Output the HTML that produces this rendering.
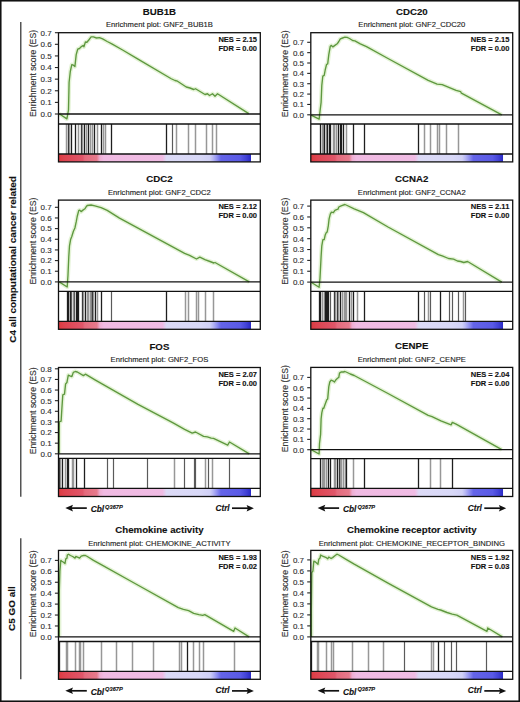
<!DOCTYPE html><html><head><meta charset="utf-8"><style>html,body{margin:0;padding:0;background:#fff;overflow:hidden;}svg{display:block;}text{font-family:"Liberation Sans",sans-serif;stroke:currentColor;stroke-width:0.12px;paint-order:stroke;}</style></head><body>
<svg width="520" height="702" viewBox="0 0 520 702">
<rect x="0" y="0" width="520" height="702" fill="#fff"/>
<defs><linearGradient id="cb" x1="0" y1="0" x2="1" y2="0"><stop offset="0.0" stop-color="#dc3a40"/><stop offset="0.03" stop-color="#de4450"/><stop offset="0.12" stop-color="#e0566a"/><stop offset="0.13" stop-color="#e46a7c"/><stop offset="0.19" stop-color="#e67a8c"/><stop offset="0.205" stop-color="#eeaed2"/><stop offset="0.225" stop-color="#f0bae2"/><stop offset="0.515" stop-color="#f0bce4"/><stop offset="0.535" stop-color="#dcdaf6"/><stop offset="0.7" stop-color="#d8d8f7"/><stop offset="0.75" stop-color="#d0d0f6"/><stop offset="0.765" stop-color="#b8b8f4"/><stop offset="0.785" stop-color="#9090f0"/><stop offset="0.805" stop-color="#6464e8"/><stop offset="0.9" stop-color="#5a5ae6"/><stop offset="0.93" stop-color="#4242d6"/><stop offset="0.952" stop-color="#2a2ac6"/><stop offset="0.9545" stop-color="#ffffff"/><stop offset="1.0" stop-color="#ffffff"/></linearGradient></defs>
<rect x="0.75" y="0.75" width="518.5" height="700.5" fill="none" stroke="#111" stroke-width="1.6"/>
<line x1="20.8" y1="22" x2="20.8" y2="496.7" stroke="#2a2a2a" stroke-width="1.2"/>
<line x1="20.8" y1="538.2" x2="20.8" y2="679.2" stroke="#2a2a2a" stroke-width="1.2"/>
<text transform="translate(15.5,259.4) rotate(-90)" text-anchor="middle" font-size="9.9" font-weight="bold" fill="#111" textLength="166.5" lengthAdjust="spacingAndGlyphs">C4 all computational cancer related</text>
<text transform="translate(15.1,608.6) rotate(-90)" text-anchor="middle" font-size="9.9" font-weight="bold" fill="#111" textLength="44.6" lengthAdjust="spacingAndGlyphs">C5 GO all</text>
<text x="159.4" y="14.7" text-anchor="middle" font-size="9.7" font-weight="bold" fill="#111">BUB1B</text>
<text x="159.4" y="27.3" text-anchor="middle" font-size="7.65" fill="#222">Enrichment plot: GNF2_BUB1B</text>
<rect x="58.50" y="154.00" width="201.80" height="7.90" fill="url(#cb)"/>
<line x1="66.50" y1="124.00" x2="66.50" y2="154.00" stroke="#979797" stroke-width="1.5"/>
<line x1="68.50" y1="124.00" x2="68.50" y2="154.00" stroke="#1e1e1e" stroke-width="1.3"/>
<line x1="69.50" y1="124.00" x2="69.50" y2="154.00" stroke="#979797" stroke-width="1.5"/>
<line x1="71.50" y1="124.00" x2="71.50" y2="154.00" stroke="#1e1e1e" stroke-width="1.3"/>
<line x1="75.50" y1="124.00" x2="75.50" y2="154.00" stroke="#1e1e1e" stroke-width="1.3"/>
<line x1="78.50" y1="124.00" x2="78.50" y2="154.00" stroke="#979797" stroke-width="1.5"/>
<line x1="81.50" y1="124.00" x2="81.50" y2="154.00" stroke="#1e1e1e" stroke-width="1.3"/>
<line x1="82.50" y1="124.00" x2="82.50" y2="154.00" stroke="#979797" stroke-width="1.5"/>
<line x1="84.50" y1="124.00" x2="84.50" y2="154.00" stroke="#1e1e1e" stroke-width="1.3"/>
<line x1="86.50" y1="124.00" x2="86.50" y2="154.00" stroke="#979797" stroke-width="1.5"/>
<line x1="88.50" y1="124.00" x2="88.50" y2="154.00" stroke="#1e1e1e" stroke-width="1.3"/>
<line x1="90.50" y1="124.00" x2="90.50" y2="154.00" stroke="#979797" stroke-width="1.5"/>
<line x1="92.50" y1="124.00" x2="92.50" y2="154.00" stroke="#979797" stroke-width="1.5"/>
<line x1="94.50" y1="124.00" x2="94.50" y2="154.00" stroke="#1e1e1e" stroke-width="1.3"/>
<line x1="97.50" y1="124.00" x2="97.50" y2="154.00" stroke="#979797" stroke-width="1.5"/>
<line x1="101.50" y1="124.00" x2="101.50" y2="154.00" stroke="#1e1e1e" stroke-width="1.3"/>
<line x1="103.50" y1="124.00" x2="103.50" y2="154.00" stroke="#979797" stroke-width="1.5"/>
<line x1="105.50" y1="124.00" x2="105.50" y2="154.00" stroke="#979797" stroke-width="1.5"/>
<line x1="111.50" y1="124.00" x2="111.50" y2="154.00" stroke="#1e1e1e" stroke-width="1.3"/>
<line x1="166.50" y1="124.00" x2="166.50" y2="154.00" stroke="#1e1e1e" stroke-width="1.3"/>
<line x1="172.50" y1="124.00" x2="172.50" y2="154.00" stroke="#5a5a5a" stroke-width="1.2"/>
<line x1="176.50" y1="124.00" x2="176.50" y2="154.00" stroke="#979797" stroke-width="1.5"/>
<line x1="188.50" y1="124.00" x2="188.50" y2="154.00" stroke="#979797" stroke-width="1.5"/>
<line x1="195.50" y1="124.00" x2="195.50" y2="154.00" stroke="#979797" stroke-width="1.5"/>
<line x1="206.50" y1="124.00" x2="206.50" y2="154.00" stroke="#979797" stroke-width="1.5"/>
<line x1="212.50" y1="124.00" x2="212.50" y2="154.00" stroke="#979797" stroke-width="1.5"/>
<line x1="216.50" y1="124.00" x2="216.50" y2="154.00" stroke="#979797" stroke-width="1.5"/>
<polyline points="59.20,113.80 66.90,118.90 68.50,110.00 69.10,82.30 70.30,71.50 71.80,64.60 73.40,65.20 74.90,66.60 76.20,54.60 77.70,49.20 79.50,48.50 81.00,46.90 83.40,45.40 83.90,46.90 85.40,42.00 86.90,42.30 88.80,40.00 91.10,36.90 93.40,36.90 96.50,38.00 99.50,37.70 102.60,38.90 107.20,41.50 111.80,43.80 122.60,50.00 138.00,59.20 171.25,78.75 175.00,80.50 177.50,81.20 186.25,87.00 190.00,88.00 193.75,89.50 195.50,88.75 205.00,94.50 207.50,93.75 209.50,95.50 212.50,93.75 215.00,96.25 217.50,93.75 248.75,113.60" fill="none" stroke="#e4f3d6" stroke-width="4.2" stroke-linejoin="round"/>
<polyline points="59.20,113.80 66.90,118.90 68.50,110.00 69.10,82.30 70.30,71.50 71.80,64.60 73.40,65.20 74.90,66.60 76.20,54.60 77.70,49.20 79.50,48.50 81.00,46.90 83.40,45.40 83.90,46.90 85.40,42.00 86.90,42.30 88.80,40.00 91.10,36.90 93.40,36.90 96.50,38.00 99.50,37.70 102.60,38.90 107.20,41.50 111.80,43.80 122.60,50.00 138.00,59.20 171.25,78.75 175.00,80.50 177.50,81.20 186.25,87.00 190.00,88.00 193.75,89.50 195.50,88.75 205.00,94.50 207.50,93.75 209.50,95.50 212.50,93.75 215.00,96.25 217.50,93.75 248.75,113.60" fill="none" stroke="#5e983f" stroke-width="1.35" stroke-linejoin="round"/>
<rect x="58.50" y="32.70" width="201.80" height="129.20" fill="none" stroke="#111" stroke-width="1.3"/>
<line x1="58.50" y1="114.00" x2="260.30" y2="114.00" stroke="#111" stroke-width="1.3"/>
<line x1="58.50" y1="124.00" x2="260.30" y2="124.00" stroke="#111" stroke-width="1.3"/>
<line x1="58.50" y1="154.00" x2="260.30" y2="154.00" stroke="#111" stroke-width="1.3"/>
<line x1="54.90" y1="114.00" x2="58.50" y2="114.00" stroke="#222" stroke-width="1.1"/>
<text x="51.70" y="116.85" text-anchor="end" font-size="8" fill="#333">0.0</text>
<line x1="54.90" y1="102.39" x2="58.50" y2="102.39" stroke="#222" stroke-width="1.1"/>
<text x="51.70" y="105.24" text-anchor="end" font-size="8" fill="#333">0.1</text>
<line x1="54.90" y1="90.77" x2="58.50" y2="90.77" stroke="#222" stroke-width="1.1"/>
<text x="51.70" y="93.62" text-anchor="end" font-size="8" fill="#333">0.2</text>
<line x1="54.90" y1="79.16" x2="58.50" y2="79.16" stroke="#222" stroke-width="1.1"/>
<text x="51.70" y="82.01" text-anchor="end" font-size="8" fill="#333">0.3</text>
<line x1="54.90" y1="67.54" x2="58.50" y2="67.54" stroke="#222" stroke-width="1.1"/>
<text x="51.70" y="70.39" text-anchor="end" font-size="8" fill="#333">0.4</text>
<line x1="54.90" y1="55.93" x2="58.50" y2="55.93" stroke="#222" stroke-width="1.1"/>
<text x="51.70" y="58.78" text-anchor="end" font-size="8" fill="#333">0.5</text>
<line x1="54.90" y1="44.31" x2="58.50" y2="44.31" stroke="#222" stroke-width="1.1"/>
<text x="51.70" y="47.16" text-anchor="end" font-size="8" fill="#333">0.6</text>
<line x1="54.90" y1="32.70" x2="58.50" y2="32.70" stroke="#222" stroke-width="1.1"/>
<text x="51.70" y="35.55" text-anchor="end" font-size="8" fill="#333">0.7</text>
<text transform="translate(35.60,73.45) rotate(-90)" text-anchor="middle" font-size="8.9" fill="#333" textLength="87" lengthAdjust="spacingAndGlyphs">Enrichment score (ES)</text>
<text x="257.00" y="42.00" text-anchor="end" font-size="7.7" font-weight="bold" fill="#111" textLength="38.6" lengthAdjust="spacingAndGlyphs">NES = 2.15</text>
<text x="257.00" y="51.00" text-anchor="end" font-size="7.7" font-weight="bold" fill="#111" textLength="38.6" lengthAdjust="spacingAndGlyphs">FDR = 0.00</text>
<text x="411.8" y="14.7" text-anchor="middle" font-size="9.7" font-weight="bold" fill="#111">CDC20</text>
<text x="411.8" y="27.3" text-anchor="middle" font-size="7.65" fill="#222">Enrichment plot: GNF2_CDC20</text>
<rect x="310.80" y="154.00" width="201.90" height="7.90" fill="url(#cb)"/>
<line x1="320.50" y1="124.00" x2="320.50" y2="154.00" stroke="#1e1e1e" stroke-width="1.3"/>
<line x1="322.50" y1="124.00" x2="322.50" y2="154.00" stroke="#979797" stroke-width="1.5"/>
<line x1="323.50" y1="124.00" x2="323.50" y2="154.00" stroke="#979797" stroke-width="1.5"/>
<line x1="324.50" y1="124.00" x2="324.50" y2="154.00" stroke="#1e1e1e" stroke-width="1.3"/>
<line x1="326.50" y1="124.00" x2="326.50" y2="154.00" stroke="#979797" stroke-width="1.5"/>
<line x1="327.50" y1="124.00" x2="327.50" y2="154.00" stroke="#1e1e1e" stroke-width="1.3"/>
<line x1="329.50" y1="124.00" x2="329.50" y2="154.00" stroke="#1e1e1e" stroke-width="1.3"/>
<line x1="330.50" y1="124.00" x2="330.50" y2="154.00" stroke="#1e1e1e" stroke-width="1.3"/>
<line x1="333.50" y1="124.00" x2="333.50" y2="154.00" stroke="#979797" stroke-width="1.5"/>
<line x1="334.50" y1="124.00" x2="334.50" y2="154.00" stroke="#979797" stroke-width="1.5"/>
<line x1="336.50" y1="124.00" x2="336.50" y2="154.00" stroke="#979797" stroke-width="1.5"/>
<line x1="338.50" y1="124.00" x2="338.50" y2="154.00" stroke="#1e1e1e" stroke-width="1.3"/>
<line x1="340.50" y1="124.00" x2="340.50" y2="154.00" stroke="#1e1e1e" stroke-width="1.3"/>
<line x1="341.50" y1="124.00" x2="341.50" y2="154.00" stroke="#1e1e1e" stroke-width="1.3"/>
<line x1="343.50" y1="124.00" x2="343.50" y2="154.00" stroke="#1e1e1e" stroke-width="1.3"/>
<line x1="346.50" y1="124.00" x2="346.50" y2="154.00" stroke="#979797" stroke-width="1.5"/>
<line x1="353.50" y1="124.00" x2="353.50" y2="154.00" stroke="#1e1e1e" stroke-width="1.3"/>
<line x1="364.50" y1="124.00" x2="364.50" y2="154.00" stroke="#1e1e1e" stroke-width="1.3"/>
<line x1="418.50" y1="124.00" x2="418.50" y2="154.00" stroke="#1e1e1e" stroke-width="1.3"/>
<line x1="424.50" y1="124.00" x2="424.50" y2="154.00" stroke="#979797" stroke-width="1.5"/>
<line x1="430.50" y1="124.00" x2="430.50" y2="154.00" stroke="#979797" stroke-width="1.5"/>
<line x1="437.50" y1="124.00" x2="437.50" y2="154.00" stroke="#979797" stroke-width="1.5"/>
<line x1="439.50" y1="124.00" x2="439.50" y2="154.00" stroke="#979797" stroke-width="1.5"/>
<line x1="446.50" y1="124.00" x2="446.50" y2="154.00" stroke="#979797" stroke-width="1.5"/>
<line x1="458.50" y1="124.00" x2="458.50" y2="154.00" stroke="#979797" stroke-width="1.5"/>
<polyline points="311.10,115.10 319.10,119.20 320.00,111.50 321.10,102.30 321.80,85.40 322.80,76.20 324.20,75.40 325.20,70.00 326.50,64.60 327.70,63.80 328.80,54.60 330.30,46.20 331.40,45.40 332.90,46.90 334.90,45.40 337.20,43.80 338.80,41.50 340.30,38.90 342.60,38.00 344.90,37.20 347.20,37.40 349.50,38.50 352.60,40.50 354.90,40.80 360.30,43.80 366.50,46.60 388.00,58.50 428.20,80.30 437.10,84.10 442.20,84.60 456.10,90.40 460.70,91.70 461.40,93.20 501.80,114.80" fill="none" stroke="#e4f3d6" stroke-width="4.2" stroke-linejoin="round"/>
<polyline points="311.10,115.10 319.10,119.20 320.00,111.50 321.10,102.30 321.80,85.40 322.80,76.20 324.20,75.40 325.20,70.00 326.50,64.60 327.70,63.80 328.80,54.60 330.30,46.20 331.40,45.40 332.90,46.90 334.90,45.40 337.20,43.80 338.80,41.50 340.30,38.90 342.60,38.00 344.90,37.20 347.20,37.40 349.50,38.50 352.60,40.50 354.90,40.80 360.30,43.80 366.50,46.60 388.00,58.50 428.20,80.30 437.10,84.10 442.20,84.60 456.10,90.40 460.70,91.70 461.40,93.20 501.80,114.80" fill="none" stroke="#5e983f" stroke-width="1.35" stroke-linejoin="round"/>
<rect x="310.80" y="32.70" width="201.90" height="129.20" fill="none" stroke="#111" stroke-width="1.3"/>
<line x1="310.80" y1="114.80" x2="512.70" y2="114.80" stroke="#111" stroke-width="1.3"/>
<line x1="310.80" y1="124.00" x2="512.70" y2="124.00" stroke="#111" stroke-width="1.3"/>
<line x1="310.80" y1="154.00" x2="512.70" y2="154.00" stroke="#111" stroke-width="1.3"/>
<line x1="307.20" y1="114.80" x2="310.80" y2="114.80" stroke="#222" stroke-width="1.1"/>
<text x="304.00" y="117.65" text-anchor="end" font-size="8" fill="#333">0.0</text>
<line x1="307.20" y1="104.44" x2="310.80" y2="104.44" stroke="#222" stroke-width="1.1"/>
<text x="304.00" y="107.29" text-anchor="end" font-size="8" fill="#333">0.1</text>
<line x1="307.20" y1="94.09" x2="310.80" y2="94.09" stroke="#222" stroke-width="1.1"/>
<text x="304.00" y="96.94" text-anchor="end" font-size="8" fill="#333">0.2</text>
<line x1="307.20" y1="83.73" x2="310.80" y2="83.73" stroke="#222" stroke-width="1.1"/>
<text x="304.00" y="86.58" text-anchor="end" font-size="8" fill="#333">0.3</text>
<line x1="307.20" y1="73.37" x2="310.80" y2="73.37" stroke="#222" stroke-width="1.1"/>
<text x="304.00" y="76.22" text-anchor="end" font-size="8" fill="#333">0.4</text>
<line x1="307.20" y1="63.01" x2="310.80" y2="63.01" stroke="#222" stroke-width="1.1"/>
<text x="304.00" y="65.86" text-anchor="end" font-size="8" fill="#333">0.5</text>
<line x1="307.20" y1="52.66" x2="310.80" y2="52.66" stroke="#222" stroke-width="1.1"/>
<text x="304.00" y="55.51" text-anchor="end" font-size="8" fill="#333">0.6</text>
<line x1="307.20" y1="42.30" x2="310.80" y2="42.30" stroke="#222" stroke-width="1.1"/>
<text x="304.00" y="45.15" text-anchor="end" font-size="8" fill="#333">0.7</text>
<text transform="translate(287.90,73.85) rotate(-90)" text-anchor="middle" font-size="8.9" fill="#333" textLength="87" lengthAdjust="spacingAndGlyphs">Enrichment score (ES)</text>
<text x="509.40" y="42.00" text-anchor="end" font-size="7.7" font-weight="bold" fill="#111" textLength="38.6" lengthAdjust="spacingAndGlyphs">NES = 2.15</text>
<text x="509.40" y="51.00" text-anchor="end" font-size="7.7" font-weight="bold" fill="#111" textLength="38.6" lengthAdjust="spacingAndGlyphs">FDR = 0.00</text>
<text x="159.4" y="182.1" text-anchor="middle" font-size="9.7" font-weight="bold" fill="#111">CDC2</text>
<text x="159.4" y="194.7" text-anchor="middle" font-size="7.65" fill="#222">Enrichment plot: GNF2_CDC2</text>
<rect x="58.50" y="321.40" width="201.80" height="7.90" fill="url(#cb)"/>
<line x1="67.50" y1="291.40" x2="67.50" y2="321.40" stroke="#1e1e1e" stroke-width="1.3"/>
<line x1="68.50" y1="291.40" x2="68.50" y2="321.40" stroke="#1e1e1e" stroke-width="1.3"/>
<line x1="70.50" y1="291.40" x2="70.50" y2="321.40" stroke="#979797" stroke-width="1.5"/>
<line x1="70.50" y1="291.40" x2="70.50" y2="321.40" stroke="#1e1e1e" stroke-width="1.3"/>
<line x1="71.50" y1="291.40" x2="71.50" y2="321.40" stroke="#5a5a5a" stroke-width="1.2"/>
<line x1="73.50" y1="291.40" x2="73.50" y2="321.40" stroke="#979797" stroke-width="1.5"/>
<line x1="74.50" y1="291.40" x2="74.50" y2="321.40" stroke="#5a5a5a" stroke-width="1.2"/>
<line x1="76.50" y1="291.40" x2="76.50" y2="321.40" stroke="#1e1e1e" stroke-width="1.3"/>
<line x1="77.50" y1="291.40" x2="77.50" y2="321.40" stroke="#1e1e1e" stroke-width="1.3"/>
<line x1="78.50" y1="291.40" x2="78.50" y2="321.40" stroke="#1e1e1e" stroke-width="1.3"/>
<line x1="82.50" y1="291.40" x2="82.50" y2="321.40" stroke="#1e1e1e" stroke-width="1.3"/>
<line x1="83.50" y1="291.40" x2="83.50" y2="321.40" stroke="#979797" stroke-width="1.5"/>
<line x1="85.50" y1="291.40" x2="85.50" y2="321.40" stroke="#1e1e1e" stroke-width="1.3"/>
<line x1="87.50" y1="291.40" x2="87.50" y2="321.40" stroke="#979797" stroke-width="1.5"/>
<line x1="88.50" y1="291.40" x2="88.50" y2="321.40" stroke="#979797" stroke-width="1.5"/>
<line x1="90.50" y1="291.40" x2="90.50" y2="321.40" stroke="#979797" stroke-width="1.5"/>
<line x1="91.50" y1="291.40" x2="91.50" y2="321.40" stroke="#979797" stroke-width="1.5"/>
<line x1="92.50" y1="291.40" x2="92.50" y2="321.40" stroke="#1e1e1e" stroke-width="1.3"/>
<line x1="93.50" y1="291.40" x2="93.50" y2="321.40" stroke="#979797" stroke-width="1.5"/>
<line x1="95.50" y1="291.40" x2="95.50" y2="321.40" stroke="#1e1e1e" stroke-width="1.3"/>
<line x1="97.50" y1="291.40" x2="97.50" y2="321.40" stroke="#979797" stroke-width="1.5"/>
<line x1="101.50" y1="291.40" x2="101.50" y2="321.40" stroke="#1e1e1e" stroke-width="1.3"/>
<line x1="111.50" y1="291.40" x2="111.50" y2="321.40" stroke="#5a5a5a" stroke-width="1.2"/>
<line x1="166.50" y1="291.40" x2="166.50" y2="321.40" stroke="#1e1e1e" stroke-width="1.3"/>
<line x1="185.50" y1="291.40" x2="185.50" y2="321.40" stroke="#979797" stroke-width="1.5"/>
<line x1="188.50" y1="291.40" x2="188.50" y2="321.40" stroke="#979797" stroke-width="1.5"/>
<line x1="196.50" y1="291.40" x2="196.50" y2="321.40" stroke="#979797" stroke-width="1.5"/>
<line x1="198.50" y1="291.40" x2="198.50" y2="321.40" stroke="#979797" stroke-width="1.5"/>
<line x1="205.50" y1="291.40" x2="205.50" y2="321.40" stroke="#979797" stroke-width="1.5"/>
<line x1="213.50" y1="291.40" x2="213.50" y2="321.40" stroke="#979797" stroke-width="1.5"/>
<polyline points="59.20,281.90 67.20,287.00 68.00,275.00 68.80,256.50 69.50,245.80 70.60,239.60 71.80,236.50 73.40,231.20 74.90,228.00 76.20,221.90 77.20,216.50 78.80,210.40 79.80,210.10 81.10,211.60 82.60,210.40 84.90,208.80 86.00,207.00 87.20,205.50 91.10,205.00 94.90,205.80 101.10,207.60 107.20,210.40 119.50,218.10 138.00,228.10 184.60,253.40 189.60,255.40 196.50,259.00 199.80,257.20 204.90,259.70 210.00,261.50 213.80,263.00 215.00,262.50 249.30,281.90" fill="none" stroke="#e4f3d6" stroke-width="4.2" stroke-linejoin="round"/>
<polyline points="59.20,281.90 67.20,287.00 68.00,275.00 68.80,256.50 69.50,245.80 70.60,239.60 71.80,236.50 73.40,231.20 74.90,228.00 76.20,221.90 77.20,216.50 78.80,210.40 79.80,210.10 81.10,211.60 82.60,210.40 84.90,208.80 86.00,207.00 87.20,205.50 91.10,205.00 94.90,205.80 101.10,207.60 107.20,210.40 119.50,218.10 138.00,228.10 184.60,253.40 189.60,255.40 196.50,259.00 199.80,257.20 204.90,259.70 210.00,261.50 213.80,263.00 215.00,262.50 249.30,281.90" fill="none" stroke="#5e983f" stroke-width="1.35" stroke-linejoin="round"/>
<rect x="58.50" y="200.10" width="201.80" height="129.20" fill="none" stroke="#111" stroke-width="1.3"/>
<line x1="58.50" y1="281.90" x2="260.30" y2="281.90" stroke="#111" stroke-width="1.3"/>
<line x1="58.50" y1="291.40" x2="260.30" y2="291.40" stroke="#111" stroke-width="1.3"/>
<line x1="58.50" y1="321.40" x2="260.30" y2="321.40" stroke="#111" stroke-width="1.3"/>
<line x1="54.90" y1="281.90" x2="58.50" y2="281.90" stroke="#222" stroke-width="1.1"/>
<text x="51.70" y="284.75" text-anchor="end" font-size="8" fill="#333">0.0</text>
<line x1="54.90" y1="271.24" x2="58.50" y2="271.24" stroke="#222" stroke-width="1.1"/>
<text x="51.70" y="274.09" text-anchor="end" font-size="8" fill="#333">0.1</text>
<line x1="54.90" y1="260.59" x2="58.50" y2="260.59" stroke="#222" stroke-width="1.1"/>
<text x="51.70" y="263.44" text-anchor="end" font-size="8" fill="#333">0.2</text>
<line x1="54.90" y1="249.93" x2="58.50" y2="249.93" stroke="#222" stroke-width="1.1"/>
<text x="51.70" y="252.78" text-anchor="end" font-size="8" fill="#333">0.3</text>
<line x1="54.90" y1="239.27" x2="58.50" y2="239.27" stroke="#222" stroke-width="1.1"/>
<text x="51.70" y="242.12" text-anchor="end" font-size="8" fill="#333">0.4</text>
<line x1="54.90" y1="228.61" x2="58.50" y2="228.61" stroke="#222" stroke-width="1.1"/>
<text x="51.70" y="231.46" text-anchor="end" font-size="8" fill="#333">0.5</text>
<line x1="54.90" y1="217.96" x2="58.50" y2="217.96" stroke="#222" stroke-width="1.1"/>
<text x="51.70" y="220.81" text-anchor="end" font-size="8" fill="#333">0.6</text>
<line x1="54.90" y1="207.30" x2="58.50" y2="207.30" stroke="#222" stroke-width="1.1"/>
<text x="51.70" y="210.15" text-anchor="end" font-size="8" fill="#333">0.7</text>
<text transform="translate(35.60,241.10) rotate(-90)" text-anchor="middle" font-size="8.9" fill="#333" textLength="87" lengthAdjust="spacingAndGlyphs">Enrichment score (ES)</text>
<text x="257.00" y="209.40" text-anchor="end" font-size="7.7" font-weight="bold" fill="#111" textLength="38.6" lengthAdjust="spacingAndGlyphs">NES = 2.12</text>
<text x="257.00" y="218.40" text-anchor="end" font-size="7.7" font-weight="bold" fill="#111" textLength="38.6" lengthAdjust="spacingAndGlyphs">FDR = 0.00</text>
<text x="411.8" y="182.1" text-anchor="middle" font-size="9.7" font-weight="bold" fill="#111">CCNA2</text>
<text x="411.8" y="194.7" text-anchor="middle" font-size="7.65" fill="#222">Enrichment plot: GNF2_CCNA2</text>
<rect x="310.80" y="321.40" width="201.90" height="7.90" fill="url(#cb)"/>
<line x1="319.50" y1="291.40" x2="319.50" y2="321.40" stroke="#1e1e1e" stroke-width="1.3"/>
<line x1="320.50" y1="291.40" x2="320.50" y2="321.40" stroke="#1e1e1e" stroke-width="1.3"/>
<line x1="322.50" y1="291.40" x2="322.50" y2="321.40" stroke="#979797" stroke-width="1.5"/>
<line x1="324.50" y1="291.40" x2="324.50" y2="321.40" stroke="#979797" stroke-width="1.5"/>
<line x1="325.50" y1="291.40" x2="325.50" y2="321.40" stroke="#1e1e1e" stroke-width="1.3"/>
<line x1="326.50" y1="291.40" x2="326.50" y2="321.40" stroke="#1e1e1e" stroke-width="1.3"/>
<line x1="327.50" y1="291.40" x2="327.50" y2="321.40" stroke="#1e1e1e" stroke-width="1.3"/>
<line x1="328.50" y1="291.40" x2="328.50" y2="321.40" stroke="#1e1e1e" stroke-width="1.3"/>
<line x1="330.50" y1="291.40" x2="330.50" y2="321.40" stroke="#5a5a5a" stroke-width="1.2"/>
<line x1="334.50" y1="291.40" x2="334.50" y2="321.40" stroke="#1e1e1e" stroke-width="1.3"/>
<line x1="335.50" y1="291.40" x2="335.50" y2="321.40" stroke="#979797" stroke-width="1.5"/>
<line x1="337.50" y1="291.40" x2="337.50" y2="321.40" stroke="#1e1e1e" stroke-width="1.3"/>
<line x1="338.50" y1="291.40" x2="338.50" y2="321.40" stroke="#979797" stroke-width="1.5"/>
<line x1="340.50" y1="291.40" x2="340.50" y2="321.40" stroke="#1e1e1e" stroke-width="1.3"/>
<line x1="342.50" y1="291.40" x2="342.50" y2="321.40" stroke="#979797" stroke-width="1.5"/>
<line x1="344.50" y1="291.40" x2="344.50" y2="321.40" stroke="#979797" stroke-width="1.5"/>
<line x1="345.50" y1="291.40" x2="345.50" y2="321.40" stroke="#979797" stroke-width="1.5"/>
<line x1="346.50" y1="291.40" x2="346.50" y2="321.40" stroke="#979797" stroke-width="1.5"/>
<line x1="349.50" y1="291.40" x2="349.50" y2="321.40" stroke="#1e1e1e" stroke-width="1.3"/>
<line x1="351.50" y1="291.40" x2="351.50" y2="321.40" stroke="#979797" stroke-width="1.5"/>
<line x1="353.50" y1="291.40" x2="353.50" y2="321.40" stroke="#1e1e1e" stroke-width="1.3"/>
<line x1="357.50" y1="291.40" x2="357.50" y2="321.40" stroke="#979797" stroke-width="1.5"/>
<line x1="364.50" y1="291.40" x2="364.50" y2="321.40" stroke="#1e1e1e" stroke-width="1.3"/>
<line x1="418.50" y1="291.40" x2="418.50" y2="321.40" stroke="#1e1e1e" stroke-width="1.3"/>
<line x1="424.50" y1="291.40" x2="424.50" y2="321.40" stroke="#5a5a5a" stroke-width="1.2"/>
<line x1="428.50" y1="291.40" x2="428.50" y2="321.40" stroke="#979797" stroke-width="1.5"/>
<line x1="430.50" y1="291.40" x2="430.50" y2="321.40" stroke="#5a5a5a" stroke-width="1.2"/>
<line x1="440.50" y1="291.40" x2="440.50" y2="321.40" stroke="#1e1e1e" stroke-width="1.3"/>
<line x1="449.50" y1="291.40" x2="449.50" y2="321.40" stroke="#5a5a5a" stroke-width="1.2"/>
<line x1="452.50" y1="291.40" x2="452.50" y2="321.40" stroke="#5a5a5a" stroke-width="1.2"/>
<line x1="458.50" y1="291.40" x2="458.50" y2="321.40" stroke="#5a5a5a" stroke-width="1.2"/>
<line x1="463.50" y1="291.40" x2="463.50" y2="321.40" stroke="#979797" stroke-width="1.5"/>
<line x1="465.50" y1="291.40" x2="465.50" y2="321.40" stroke="#5a5a5a" stroke-width="1.2"/>
<polyline points="311.10,282.20 319.10,287.30 320.00,278.10 321.10,256.50 321.80,245.80 322.90,239.60 324.20,239.60 325.20,235.00 326.20,232.70 327.20,231.90 328.30,225.80 329.10,218.80 330.30,214.20 331.40,212.20 333.40,212.70 334.90,210.40 336.50,209.60 338.00,209.20 338.80,207.00 341.10,205.80 344.90,204.50 347.20,205.50 354.20,208.80 363.40,212.70 388.00,227.00 438.40,254.60 442.20,255.90 448.50,258.50 453.60,259.20 457.40,261.00 460.70,261.50 463.80,262.50 467.60,261.50 501.80,282.10" fill="none" stroke="#e4f3d6" stroke-width="4.2" stroke-linejoin="round"/>
<polyline points="311.10,282.20 319.10,287.30 320.00,278.10 321.10,256.50 321.80,245.80 322.90,239.60 324.20,239.60 325.20,235.00 326.20,232.70 327.20,231.90 328.30,225.80 329.10,218.80 330.30,214.20 331.40,212.20 333.40,212.70 334.90,210.40 336.50,209.60 338.00,209.20 338.80,207.00 341.10,205.80 344.90,204.50 347.20,205.50 354.20,208.80 363.40,212.70 388.00,227.00 438.40,254.60 442.20,255.90 448.50,258.50 453.60,259.20 457.40,261.00 460.70,261.50 463.80,262.50 467.60,261.50 501.80,282.10" fill="none" stroke="#5e983f" stroke-width="1.35" stroke-linejoin="round"/>
<rect x="310.80" y="200.10" width="201.90" height="129.20" fill="none" stroke="#111" stroke-width="1.3"/>
<line x1="310.80" y1="282.10" x2="512.70" y2="282.10" stroke="#111" stroke-width="1.3"/>
<line x1="310.80" y1="291.40" x2="512.70" y2="291.40" stroke="#111" stroke-width="1.3"/>
<line x1="310.80" y1="321.40" x2="512.70" y2="321.40" stroke="#111" stroke-width="1.3"/>
<line x1="307.20" y1="282.10" x2="310.80" y2="282.10" stroke="#222" stroke-width="1.1"/>
<text x="304.00" y="284.95" text-anchor="end" font-size="8" fill="#333">0.0</text>
<line x1="307.20" y1="271.24" x2="310.80" y2="271.24" stroke="#222" stroke-width="1.1"/>
<text x="304.00" y="274.09" text-anchor="end" font-size="8" fill="#333">0.1</text>
<line x1="307.20" y1="260.39" x2="310.80" y2="260.39" stroke="#222" stroke-width="1.1"/>
<text x="304.00" y="263.24" text-anchor="end" font-size="8" fill="#333">0.2</text>
<line x1="307.20" y1="249.53" x2="310.80" y2="249.53" stroke="#222" stroke-width="1.1"/>
<text x="304.00" y="252.38" text-anchor="end" font-size="8" fill="#333">0.3</text>
<line x1="307.20" y1="238.67" x2="310.80" y2="238.67" stroke="#222" stroke-width="1.1"/>
<text x="304.00" y="241.52" text-anchor="end" font-size="8" fill="#333">0.4</text>
<line x1="307.20" y1="227.81" x2="310.80" y2="227.81" stroke="#222" stroke-width="1.1"/>
<text x="304.00" y="230.66" text-anchor="end" font-size="8" fill="#333">0.5</text>
<line x1="307.20" y1="216.96" x2="310.80" y2="216.96" stroke="#222" stroke-width="1.1"/>
<text x="304.00" y="219.81" text-anchor="end" font-size="8" fill="#333">0.6</text>
<line x1="307.20" y1="206.10" x2="310.80" y2="206.10" stroke="#222" stroke-width="1.1"/>
<text x="304.00" y="208.95" text-anchor="end" font-size="8" fill="#333">0.7</text>
<text transform="translate(287.90,241.20) rotate(-90)" text-anchor="middle" font-size="8.9" fill="#333" textLength="87" lengthAdjust="spacingAndGlyphs">Enrichment score (ES)</text>
<text x="509.40" y="209.40" text-anchor="end" font-size="7.7" font-weight="bold" fill="#111" textLength="38.6" lengthAdjust="spacingAndGlyphs">NES = 2.11</text>
<text x="509.40" y="218.40" text-anchor="end" font-size="7.7" font-weight="bold" fill="#111" textLength="38.6" lengthAdjust="spacingAndGlyphs">FDR = 0.00</text>
<text x="159.4" y="349.5" text-anchor="middle" font-size="9.7" font-weight="bold" fill="#111">FOS</text>
<text x="159.4" y="362.1" text-anchor="middle" font-size="7.65" fill="#222">Enrichment plot: GNF2_FOS</text>
<rect x="58.50" y="488.40" width="201.80" height="8.10" fill="url(#cb)"/>
<line x1="59.50" y1="458.40" x2="59.50" y2="488.40" stroke="#1e1e1e" stroke-width="1.3"/>
<line x1="60.50" y1="458.40" x2="60.50" y2="488.40" stroke="#979797" stroke-width="1.5"/>
<line x1="62.50" y1="458.40" x2="62.50" y2="488.40" stroke="#1e1e1e" stroke-width="1.3"/>
<line x1="65.50" y1="458.40" x2="65.50" y2="488.40" stroke="#979797" stroke-width="1.5"/>
<line x1="67.50" y1="458.40" x2="67.50" y2="488.40" stroke="#1e1e1e" stroke-width="1.3"/>
<line x1="68.50" y1="458.40" x2="68.50" y2="488.40" stroke="#1e1e1e" stroke-width="1.3"/>
<line x1="72.50" y1="458.40" x2="72.50" y2="488.40" stroke="#979797" stroke-width="1.5"/>
<line x1="73.50" y1="458.40" x2="73.50" y2="488.40" stroke="#979797" stroke-width="1.5"/>
<line x1="76.50" y1="458.40" x2="76.50" y2="488.40" stroke="#1e1e1e" stroke-width="1.3"/>
<line x1="84.50" y1="458.40" x2="84.50" y2="488.40" stroke="#1e1e1e" stroke-width="1.3"/>
<line x1="107.50" y1="458.40" x2="107.50" y2="488.40" stroke="#5a5a5a" stroke-width="1.2"/>
<line x1="113.50" y1="458.40" x2="113.50" y2="488.40" stroke="#5a5a5a" stroke-width="1.2"/>
<line x1="147.50" y1="458.40" x2="147.50" y2="488.40" stroke="#5a5a5a" stroke-width="1.2"/>
<line x1="174.50" y1="458.40" x2="174.50" y2="488.40" stroke="#979797" stroke-width="1.5"/>
<line x1="184.50" y1="458.40" x2="184.50" y2="488.40" stroke="#5a5a5a" stroke-width="1.2"/>
<line x1="194.50" y1="458.40" x2="194.50" y2="488.40" stroke="#5a5a5a" stroke-width="1.2"/>
<line x1="195.50" y1="458.40" x2="195.50" y2="488.40" stroke="#5a5a5a" stroke-width="1.2"/>
<line x1="205.50" y1="458.40" x2="205.50" y2="488.40" stroke="#979797" stroke-width="1.5"/>
<line x1="208.50" y1="458.40" x2="208.50" y2="488.40" stroke="#5a5a5a" stroke-width="1.2"/>
<line x1="212.50" y1="458.40" x2="212.50" y2="488.40" stroke="#979797" stroke-width="1.5"/>
<line x1="229.50" y1="458.40" x2="229.50" y2="488.40" stroke="#5a5a5a" stroke-width="1.2"/>
<polyline points="59.10,453.50 59.30,421.80 61.10,421.20 61.80,409.70 62.80,394.80 64.50,394.10 65.60,383.90 66.90,382.60 68.30,375.10 69.90,375.80 71.90,376.50 73.30,372.40 75.30,371.50 77.30,372.00 83.40,375.60 85.40,374.20 95.00,379.90 138.00,404.30 173.10,422.90 184.60,429.30 192.20,433.10 195.50,432.00 203.60,436.40 207.40,436.90 211.20,438.10 213.50,438.30 227.70,445.20 229.50,442.00 249.30,453.80" fill="none" stroke="#e4f3d6" stroke-width="4.2" stroke-linejoin="round"/>
<polyline points="59.10,453.50 59.30,421.80 61.10,421.20 61.80,409.70 62.80,394.80 64.50,394.10 65.60,383.90 66.90,382.60 68.30,375.10 69.90,375.80 71.90,376.50 73.30,372.40 75.30,371.50 77.30,372.00 83.40,375.60 85.40,374.20 95.00,379.90 138.00,404.30 173.10,422.90 184.60,429.30 192.20,433.10 195.50,432.00 203.60,436.40 207.40,436.90 211.20,438.10 213.50,438.30 227.70,445.20 229.50,442.00 249.30,453.80" fill="none" stroke="#5e983f" stroke-width="1.35" stroke-linejoin="round"/>
<rect x="58.50" y="367.50" width="201.80" height="129.00" fill="none" stroke="#111" stroke-width="1.3"/>
<line x1="58.50" y1="453.80" x2="260.30" y2="453.80" stroke="#111" stroke-width="1.3"/>
<line x1="58.50" y1="458.40" x2="260.30" y2="458.40" stroke="#111" stroke-width="1.3"/>
<line x1="58.50" y1="488.40" x2="260.30" y2="488.40" stroke="#111" stroke-width="1.3"/>
<line x1="54.90" y1="453.80" x2="58.50" y2="453.80" stroke="#222" stroke-width="1.1"/>
<text x="51.70" y="456.65" text-anchor="end" font-size="8" fill="#333">0.0</text>
<line x1="54.90" y1="443.18" x2="58.50" y2="443.18" stroke="#222" stroke-width="1.1"/>
<text x="51.70" y="446.03" text-anchor="end" font-size="8" fill="#333">0.1</text>
<line x1="54.90" y1="432.55" x2="58.50" y2="432.55" stroke="#222" stroke-width="1.1"/>
<text x="51.70" y="435.40" text-anchor="end" font-size="8" fill="#333">0.2</text>
<line x1="54.90" y1="421.93" x2="58.50" y2="421.93" stroke="#222" stroke-width="1.1"/>
<text x="51.70" y="424.78" text-anchor="end" font-size="8" fill="#333">0.3</text>
<line x1="54.90" y1="411.30" x2="58.50" y2="411.30" stroke="#222" stroke-width="1.1"/>
<text x="51.70" y="414.15" text-anchor="end" font-size="8" fill="#333">0.4</text>
<line x1="54.90" y1="400.68" x2="58.50" y2="400.68" stroke="#222" stroke-width="1.1"/>
<text x="51.70" y="403.53" text-anchor="end" font-size="8" fill="#333">0.5</text>
<line x1="54.90" y1="390.05" x2="58.50" y2="390.05" stroke="#222" stroke-width="1.1"/>
<text x="51.70" y="392.90" text-anchor="end" font-size="8" fill="#333">0.6</text>
<line x1="54.90" y1="379.43" x2="58.50" y2="379.43" stroke="#222" stroke-width="1.1"/>
<text x="51.70" y="382.28" text-anchor="end" font-size="8" fill="#333">0.7</text>
<line x1="54.90" y1="368.80" x2="58.50" y2="368.80" stroke="#222" stroke-width="1.1"/>
<text x="51.70" y="371.65" text-anchor="end" font-size="8" fill="#333">0.8</text>
<text transform="translate(35.60,410.75) rotate(-90)" text-anchor="middle" font-size="8.9" fill="#333" textLength="87" lengthAdjust="spacingAndGlyphs">Enrichment score (ES)</text>
<text x="257.00" y="376.80" text-anchor="end" font-size="7.7" font-weight="bold" fill="#111" textLength="38.6" lengthAdjust="spacingAndGlyphs">NES = 2.07</text>
<text x="257.00" y="385.80" text-anchor="end" font-size="7.7" font-weight="bold" fill="#111" textLength="38.6" lengthAdjust="spacingAndGlyphs">FDR = 0.00</text>
<text x="411.8" y="349.4" text-anchor="middle" font-size="9.7" font-weight="bold" fill="#111">CENPE</text>
<text x="411.8" y="362.0" text-anchor="middle" font-size="7.65" fill="#222">Enrichment plot: GNF2_CENPE</text>
<rect x="310.80" y="488.40" width="201.90" height="8.10" fill="url(#cb)"/>
<line x1="320.50" y1="458.60" x2="320.50" y2="488.40" stroke="#1e1e1e" stroke-width="1.3"/>
<line x1="322.50" y1="458.60" x2="322.50" y2="488.40" stroke="#979797" stroke-width="1.5"/>
<line x1="323.50" y1="458.60" x2="323.50" y2="488.40" stroke="#979797" stroke-width="1.5"/>
<line x1="324.50" y1="458.60" x2="324.50" y2="488.40" stroke="#979797" stroke-width="1.5"/>
<line x1="326.50" y1="458.60" x2="326.50" y2="488.40" stroke="#979797" stroke-width="1.5"/>
<line x1="328.50" y1="458.60" x2="328.50" y2="488.40" stroke="#1e1e1e" stroke-width="1.3"/>
<line x1="330.50" y1="458.60" x2="330.50" y2="488.40" stroke="#1e1e1e" stroke-width="1.3"/>
<line x1="334.50" y1="458.60" x2="334.50" y2="488.40" stroke="#979797" stroke-width="1.5"/>
<line x1="335.50" y1="458.60" x2="335.50" y2="488.40" stroke="#979797" stroke-width="1.5"/>
<line x1="337.50" y1="458.60" x2="337.50" y2="488.40" stroke="#1e1e1e" stroke-width="1.3"/>
<line x1="339.50" y1="458.60" x2="339.50" y2="488.40" stroke="#1e1e1e" stroke-width="1.3"/>
<line x1="340.50" y1="458.60" x2="340.50" y2="488.40" stroke="#979797" stroke-width="1.5"/>
<line x1="341.50" y1="458.60" x2="341.50" y2="488.40" stroke="#979797" stroke-width="1.5"/>
<line x1="343.50" y1="458.60" x2="343.50" y2="488.40" stroke="#979797" stroke-width="1.5"/>
<line x1="345.50" y1="458.60" x2="345.50" y2="488.40" stroke="#979797" stroke-width="1.5"/>
<line x1="346.50" y1="458.60" x2="346.50" y2="488.40" stroke="#1e1e1e" stroke-width="1.3"/>
<line x1="353.50" y1="458.60" x2="353.50" y2="488.40" stroke="#979797" stroke-width="1.5"/>
<line x1="364.50" y1="458.60" x2="364.50" y2="488.40" stroke="#1e1e1e" stroke-width="1.3"/>
<line x1="418.50" y1="458.60" x2="418.50" y2="488.40" stroke="#1e1e1e" stroke-width="1.3"/>
<line x1="430.50" y1="458.60" x2="430.50" y2="488.40" stroke="#979797" stroke-width="1.5"/>
<line x1="440.50" y1="458.60" x2="440.50" y2="488.40" stroke="#979797" stroke-width="1.5"/>
<line x1="452.50" y1="458.60" x2="452.50" y2="488.40" stroke="#1e1e1e" stroke-width="1.3"/>
<polyline points="311.10,449.70 319.10,454.00 319.50,443.50 320.60,434.30 321.10,418.90 321.80,412.80 322.90,408.20 323.80,408.20 324.60,405.80 325.70,402.80 326.80,399.70 327.70,398.90 328.80,386.60 329.80,382.00 331.10,380.20 333.40,381.20 334.50,382.00 336.00,379.70 337.50,378.20 338.80,377.40 339.50,373.10 341.10,372.00 343.40,372.00 344.90,371.50 347.20,372.50 350.30,374.00 354.20,375.50 388.00,393.50 428.20,415.30 432.00,416.60 440.90,420.90 451.10,424.90 452.30,422.40 456.10,424.20 501.80,449.70" fill="none" stroke="#e4f3d6" stroke-width="4.2" stroke-linejoin="round"/>
<polyline points="311.10,449.70 319.10,454.00 319.50,443.50 320.60,434.30 321.10,418.90 321.80,412.80 322.90,408.20 323.80,408.20 324.60,405.80 325.70,402.80 326.80,399.70 327.70,398.90 328.80,386.60 329.80,382.00 331.10,380.20 333.40,381.20 334.50,382.00 336.00,379.70 337.50,378.20 338.80,377.40 339.50,373.10 341.10,372.00 343.40,372.00 344.90,371.50 347.20,372.50 350.30,374.00 354.20,375.50 388.00,393.50 428.20,415.30 432.00,416.60 440.90,420.90 451.10,424.90 452.30,422.40 456.10,424.20 501.80,449.70" fill="none" stroke="#5e983f" stroke-width="1.35" stroke-linejoin="round"/>
<rect x="310.80" y="367.40" width="201.90" height="129.10" fill="none" stroke="#111" stroke-width="1.3"/>
<line x1="310.80" y1="449.70" x2="512.70" y2="449.70" stroke="#111" stroke-width="1.3"/>
<line x1="310.80" y1="458.60" x2="512.70" y2="458.60" stroke="#111" stroke-width="1.3"/>
<line x1="310.80" y1="488.40" x2="512.70" y2="488.40" stroke="#111" stroke-width="1.3"/>
<line x1="307.20" y1="449.70" x2="310.80" y2="449.70" stroke="#222" stroke-width="1.1"/>
<text x="304.00" y="452.55" text-anchor="end" font-size="8" fill="#333">0.0</text>
<line x1="307.20" y1="439.37" x2="310.80" y2="439.37" stroke="#222" stroke-width="1.1"/>
<text x="304.00" y="442.22" text-anchor="end" font-size="8" fill="#333">0.1</text>
<line x1="307.20" y1="429.04" x2="310.80" y2="429.04" stroke="#222" stroke-width="1.1"/>
<text x="304.00" y="431.89" text-anchor="end" font-size="8" fill="#333">0.2</text>
<line x1="307.20" y1="418.71" x2="310.80" y2="418.71" stroke="#222" stroke-width="1.1"/>
<text x="304.00" y="421.56" text-anchor="end" font-size="8" fill="#333">0.3</text>
<line x1="307.20" y1="408.39" x2="310.80" y2="408.39" stroke="#222" stroke-width="1.1"/>
<text x="304.00" y="411.24" text-anchor="end" font-size="8" fill="#333">0.4</text>
<line x1="307.20" y1="398.06" x2="310.80" y2="398.06" stroke="#222" stroke-width="1.1"/>
<text x="304.00" y="400.91" text-anchor="end" font-size="8" fill="#333">0.5</text>
<line x1="307.20" y1="387.73" x2="310.80" y2="387.73" stroke="#222" stroke-width="1.1"/>
<text x="304.00" y="390.58" text-anchor="end" font-size="8" fill="#333">0.6</text>
<line x1="307.20" y1="377.40" x2="310.80" y2="377.40" stroke="#222" stroke-width="1.1"/>
<text x="304.00" y="380.25" text-anchor="end" font-size="8" fill="#333">0.7</text>
<text transform="translate(287.90,408.65) rotate(-90)" text-anchor="middle" font-size="8.9" fill="#333" textLength="87" lengthAdjust="spacingAndGlyphs">Enrichment score (ES)</text>
<text x="509.40" y="376.70" text-anchor="end" font-size="7.7" font-weight="bold" fill="#111" textLength="38.6" lengthAdjust="spacingAndGlyphs">NES = 2.04</text>
<text x="509.40" y="385.70" text-anchor="end" font-size="7.7" font-weight="bold" fill="#111" textLength="38.6" lengthAdjust="spacingAndGlyphs">FDR = 0.00</text>
<text x="159.4" y="533.0" text-anchor="middle" font-size="9.7" font-weight="bold" fill="#111">Chemokine activity</text>
<text x="159.4" y="545.6" text-anchor="middle" font-size="7.65" fill="#222">Enrichment plot: CHEMOKINE_ACTIVITY</text>
<rect x="58.50" y="671.40" width="201.80" height="7.90" fill="url(#cb)"/>
<line x1="59.50" y1="641.50" x2="59.50" y2="671.40" stroke="#1e1e1e" stroke-width="1.3"/>
<line x1="66.50" y1="641.50" x2="66.50" y2="671.40" stroke="#979797" stroke-width="1.5"/>
<line x1="67.50" y1="641.50" x2="67.50" y2="671.40" stroke="#979797" stroke-width="1.5"/>
<line x1="75.50" y1="641.50" x2="75.50" y2="671.40" stroke="#979797" stroke-width="1.5"/>
<line x1="79.50" y1="641.50" x2="79.50" y2="671.40" stroke="#979797" stroke-width="1.5"/>
<line x1="80.50" y1="641.50" x2="80.50" y2="671.40" stroke="#979797" stroke-width="1.5"/>
<line x1="83.50" y1="641.50" x2="83.50" y2="671.40" stroke="#979797" stroke-width="1.5"/>
<line x1="101.50" y1="641.50" x2="101.50" y2="671.40" stroke="#979797" stroke-width="1.5"/>
<line x1="116.50" y1="641.50" x2="116.50" y2="671.40" stroke="#979797" stroke-width="1.5"/>
<line x1="132.50" y1="641.50" x2="132.50" y2="671.40" stroke="#979797" stroke-width="1.5"/>
<line x1="153.50" y1="641.50" x2="153.50" y2="671.40" stroke="#979797" stroke-width="1.5"/>
<line x1="179.50" y1="641.50" x2="179.50" y2="671.40" stroke="#979797" stroke-width="1.5"/>
<line x1="181.50" y1="641.50" x2="181.50" y2="671.40" stroke="#979797" stroke-width="1.5"/>
<line x1="187.50" y1="641.50" x2="187.50" y2="671.40" stroke="#1e1e1e" stroke-width="1.3"/>
<line x1="193.50" y1="641.50" x2="193.50" y2="671.40" stroke="#979797" stroke-width="1.5"/>
<line x1="199.50" y1="641.50" x2="199.50" y2="671.40" stroke="#979797" stroke-width="1.5"/>
<line x1="203.50" y1="641.50" x2="203.50" y2="671.40" stroke="#979797" stroke-width="1.5"/>
<line x1="234.50" y1="641.50" x2="234.50" y2="671.40" stroke="#979797" stroke-width="1.5"/>
<polyline points="59.30,636.90 59.30,591.20 59.90,571.20 60.80,560.40 61.90,561.20 63.50,562.20 65.00,563.50 65.80,558.80 67.00,558.10 67.30,555.00 68.50,554.20 70.40,555.50 72.70,556.50 75.00,558.10 75.80,556.50 78.10,557.30 79.60,558.10 81.20,556.10 83.50,555.50 85.50,555.50 87.30,556.50 93.50,560.40 101.20,564.70 135.00,583.50 178.30,607.60 183.40,609.40 188.60,610.70 193.70,613.30 198.90,614.60 202.70,615.40 204.80,614.60 233.70,631.30 235.00,628.00 249.10,636.90" fill="none" stroke="#e4f3d6" stroke-width="4.2" stroke-linejoin="round"/>
<polyline points="59.30,636.90 59.30,591.20 59.90,571.20 60.80,560.40 61.90,561.20 63.50,562.20 65.00,563.50 65.80,558.80 67.00,558.10 67.30,555.00 68.50,554.20 70.40,555.50 72.70,556.50 75.00,558.10 75.80,556.50 78.10,557.30 79.60,558.10 81.20,556.10 83.50,555.50 85.50,555.50 87.30,556.50 93.50,560.40 101.20,564.70 135.00,583.50 178.30,607.60 183.40,609.40 188.60,610.70 193.70,613.30 198.90,614.60 202.70,615.40 204.80,614.60 233.70,631.30 235.00,628.00 249.10,636.90" fill="none" stroke="#5e983f" stroke-width="1.35" stroke-linejoin="round"/>
<rect x="58.50" y="550.40" width="201.80" height="128.90" fill="none" stroke="#111" stroke-width="1.3"/>
<line x1="58.50" y1="636.90" x2="260.30" y2="636.90" stroke="#111" stroke-width="1.3"/>
<line x1="58.50" y1="641.50" x2="260.30" y2="641.50" stroke="#111" stroke-width="1.3"/>
<line x1="58.50" y1="671.40" x2="260.30" y2="671.40" stroke="#111" stroke-width="1.3"/>
<line x1="54.90" y1="636.90" x2="58.50" y2="636.90" stroke="#222" stroke-width="1.1"/>
<text x="51.70" y="639.75" text-anchor="end" font-size="8" fill="#333">0.0</text>
<line x1="54.90" y1="625.97" x2="58.50" y2="625.97" stroke="#222" stroke-width="1.1"/>
<text x="51.70" y="628.82" text-anchor="end" font-size="8" fill="#333">0.1</text>
<line x1="54.90" y1="615.04" x2="58.50" y2="615.04" stroke="#222" stroke-width="1.1"/>
<text x="51.70" y="617.89" text-anchor="end" font-size="8" fill="#333">0.2</text>
<line x1="54.90" y1="604.11" x2="58.50" y2="604.11" stroke="#222" stroke-width="1.1"/>
<text x="51.70" y="606.96" text-anchor="end" font-size="8" fill="#333">0.3</text>
<line x1="54.90" y1="593.19" x2="58.50" y2="593.19" stroke="#222" stroke-width="1.1"/>
<text x="51.70" y="596.04" text-anchor="end" font-size="8" fill="#333">0.4</text>
<line x1="54.90" y1="582.26" x2="58.50" y2="582.26" stroke="#222" stroke-width="1.1"/>
<text x="51.70" y="585.11" text-anchor="end" font-size="8" fill="#333">0.5</text>
<line x1="54.90" y1="571.33" x2="58.50" y2="571.33" stroke="#222" stroke-width="1.1"/>
<text x="51.70" y="574.18" text-anchor="end" font-size="8" fill="#333">0.6</text>
<line x1="54.90" y1="560.40" x2="58.50" y2="560.40" stroke="#222" stroke-width="1.1"/>
<text x="51.70" y="563.25" text-anchor="end" font-size="8" fill="#333">0.7</text>
<text transform="translate(35.60,593.75) rotate(-90)" text-anchor="middle" font-size="8.9" fill="#333" textLength="87" lengthAdjust="spacingAndGlyphs">Enrichment score (ES)</text>
<text x="257.00" y="559.70" text-anchor="end" font-size="7.7" font-weight="bold" fill="#111" textLength="38.6" lengthAdjust="spacingAndGlyphs">NES = 1.93</text>
<text x="257.00" y="568.70" text-anchor="end" font-size="7.7" font-weight="bold" fill="#111" textLength="38.6" lengthAdjust="spacingAndGlyphs">FDR = 0.02</text>
<text x="411.8" y="533.0" text-anchor="middle" font-size="9.7" font-weight="bold" fill="#111">Chemokine receptor activity</text>
<text x="411.8" y="545.6" text-anchor="middle" font-size="7.65" fill="#222">Enrichment plot: CHEMOKINE_RECEPTOR_BINDING</text>
<rect x="310.80" y="671.40" width="201.90" height="7.90" fill="url(#cb)"/>
<line x1="311.50" y1="641.50" x2="311.50" y2="671.40" stroke="#1e1e1e" stroke-width="1.3"/>
<line x1="317.50" y1="641.50" x2="317.50" y2="671.40" stroke="#979797" stroke-width="1.5"/>
<line x1="318.50" y1="641.50" x2="318.50" y2="671.40" stroke="#979797" stroke-width="1.5"/>
<line x1="326.50" y1="641.50" x2="326.50" y2="671.40" stroke="#979797" stroke-width="1.5"/>
<line x1="331.50" y1="641.50" x2="331.50" y2="671.40" stroke="#979797" stroke-width="1.5"/>
<line x1="333.50" y1="641.50" x2="333.50" y2="671.40" stroke="#979797" stroke-width="1.5"/>
<line x1="352.50" y1="641.50" x2="352.50" y2="671.40" stroke="#979797" stroke-width="1.5"/>
<line x1="368.50" y1="641.50" x2="368.50" y2="671.40" stroke="#979797" stroke-width="1.5"/>
<line x1="383.50" y1="641.50" x2="383.50" y2="671.40" stroke="#979797" stroke-width="1.5"/>
<line x1="404.50" y1="641.50" x2="404.50" y2="671.40" stroke="#5a5a5a" stroke-width="1.2"/>
<line x1="431.50" y1="641.50" x2="431.50" y2="671.40" stroke="#979797" stroke-width="1.5"/>
<line x1="433.50" y1="641.50" x2="433.50" y2="671.40" stroke="#979797" stroke-width="1.5"/>
<line x1="438.50" y1="641.50" x2="438.50" y2="671.40" stroke="#1e1e1e" stroke-width="1.3"/>
<line x1="444.50" y1="641.50" x2="444.50" y2="671.40" stroke="#5a5a5a" stroke-width="1.2"/>
<line x1="451.50" y1="641.50" x2="451.50" y2="671.40" stroke="#5a5a5a" stroke-width="1.2"/>
<line x1="456.50" y1="641.50" x2="456.50" y2="671.40" stroke="#5a5a5a" stroke-width="1.2"/>
<line x1="486.50" y1="641.50" x2="486.50" y2="671.40" stroke="#5a5a5a" stroke-width="1.2"/>
<polyline points="311.40,636.90 311.40,609.60 311.80,572.70 312.90,571.20 313.80,561.20 315.70,562.20 318.00,564.20 318.80,559.20 320.00,558.10 320.60,555.00 322.60,556.10 325.70,557.30 327.70,558.80 328.80,557.00 331.10,558.50 332.60,557.60 334.90,555.80 336.90,554.20 338.80,555.00 346.50,559.60 354.20,564.20 388.00,583.20 431.50,606.90 438.00,609.40 440.60,610.00 447.00,612.50 452.20,614.10 456.80,615.10 487.00,631.30 487.70,628.00 502.40,636.90" fill="none" stroke="#e4f3d6" stroke-width="4.2" stroke-linejoin="round"/>
<polyline points="311.40,636.90 311.40,609.60 311.80,572.70 312.90,571.20 313.80,561.20 315.70,562.20 318.00,564.20 318.80,559.20 320.00,558.10 320.60,555.00 322.60,556.10 325.70,557.30 327.70,558.80 328.80,557.00 331.10,558.50 332.60,557.60 334.90,555.80 336.90,554.20 338.80,555.00 346.50,559.60 354.20,564.20 388.00,583.20 431.50,606.90 438.00,609.40 440.60,610.00 447.00,612.50 452.20,614.10 456.80,615.10 487.00,631.30 487.70,628.00 502.40,636.90" fill="none" stroke="#5e983f" stroke-width="1.35" stroke-linejoin="round"/>
<rect x="310.80" y="550.40" width="201.90" height="128.90" fill="none" stroke="#111" stroke-width="1.3"/>
<line x1="310.80" y1="636.90" x2="512.70" y2="636.90" stroke="#111" stroke-width="1.3"/>
<line x1="310.80" y1="641.50" x2="512.70" y2="641.50" stroke="#111" stroke-width="1.3"/>
<line x1="310.80" y1="671.40" x2="512.70" y2="671.40" stroke="#111" stroke-width="1.3"/>
<line x1="307.20" y1="636.90" x2="310.80" y2="636.90" stroke="#222" stroke-width="1.1"/>
<text x="304.00" y="639.75" text-anchor="end" font-size="8" fill="#333">0.0</text>
<line x1="307.20" y1="625.90" x2="310.80" y2="625.90" stroke="#222" stroke-width="1.1"/>
<text x="304.00" y="628.75" text-anchor="end" font-size="8" fill="#333">0.1</text>
<line x1="307.20" y1="614.90" x2="310.80" y2="614.90" stroke="#222" stroke-width="1.1"/>
<text x="304.00" y="617.75" text-anchor="end" font-size="8" fill="#333">0.2</text>
<line x1="307.20" y1="603.90" x2="310.80" y2="603.90" stroke="#222" stroke-width="1.1"/>
<text x="304.00" y="606.75" text-anchor="end" font-size="8" fill="#333">0.3</text>
<line x1="307.20" y1="592.90" x2="310.80" y2="592.90" stroke="#222" stroke-width="1.1"/>
<text x="304.00" y="595.75" text-anchor="end" font-size="8" fill="#333">0.4</text>
<line x1="307.20" y1="581.90" x2="310.80" y2="581.90" stroke="#222" stroke-width="1.1"/>
<text x="304.00" y="584.75" text-anchor="end" font-size="8" fill="#333">0.5</text>
<line x1="307.20" y1="570.90" x2="310.80" y2="570.90" stroke="#222" stroke-width="1.1"/>
<text x="304.00" y="573.75" text-anchor="end" font-size="8" fill="#333">0.6</text>
<line x1="307.20" y1="559.90" x2="310.80" y2="559.90" stroke="#222" stroke-width="1.1"/>
<text x="304.00" y="562.75" text-anchor="end" font-size="8" fill="#333">0.7</text>
<text transform="translate(287.90,593.75) rotate(-90)" text-anchor="middle" font-size="8.9" fill="#333" textLength="87" lengthAdjust="spacingAndGlyphs">Enrichment score (ES)</text>
<text x="509.40" y="559.70" text-anchor="end" font-size="7.7" font-weight="bold" fill="#111" textLength="38.6" lengthAdjust="spacingAndGlyphs">NES = 1.92</text>
<text x="509.40" y="568.70" text-anchor="end" font-size="7.7" font-weight="bold" fill="#111" textLength="38.6" lengthAdjust="spacingAndGlyphs">FDR = 0.03</text>
<line x1="70.0" y1="508.1" x2="86.8" y2="508.1" stroke="#111" stroke-width="1.7"/>
<path d="M65.3,508.1 L73.0,504.8 L71.6,508.1 L73.0,511.4 Z" fill="#111"/>
<text x="90.7" y="512.0" font-size="8.6" font-weight="bold" font-style="italic" fill="#111" textLength="13.4" lengthAdjust="spacingAndGlyphs">Cbl</text>
<text x="105.1" y="508.6" font-size="5.7" font-weight="bold" font-style="italic" fill="#111">Q367P</text>
<text x="215.5" y="510.6" font-size="8.2" font-weight="bold" font-style="italic" fill="#111" textLength="14.1" lengthAdjust="spacingAndGlyphs">Ctrl</text>
<line x1="232.0" y1="508.2" x2="249.5" y2="508.2" stroke="#111" stroke-width="1.7"/>
<path d="M253.9,508.2 L246.6,505.0 L247.9,508.2 L246.6,511.4 Z" fill="#111"/>
<line x1="322.3" y1="508.1" x2="339.1" y2="508.1" stroke="#111" stroke-width="1.7"/>
<path d="M317.6,508.1 L325.3,504.8 L323.9,508.1 L325.3,511.4 Z" fill="#111"/>
<text x="343.0" y="512.0" font-size="8.6" font-weight="bold" font-style="italic" fill="#111" textLength="13.4" lengthAdjust="spacingAndGlyphs">Cbl</text>
<text x="357.4" y="508.6" font-size="5.7" font-weight="bold" font-style="italic" fill="#111">Q367P</text>
<text x="467.8" y="510.6" font-size="8.2" font-weight="bold" font-style="italic" fill="#111" textLength="14.1" lengthAdjust="spacingAndGlyphs">Ctrl</text>
<line x1="484.3" y1="508.2" x2="501.8" y2="508.2" stroke="#111" stroke-width="1.7"/>
<path d="M506.2,508.2 L498.9,505.0 L500.2,508.2 L498.9,511.4 Z" fill="#111"/>
<line x1="70.0" y1="690.8" x2="86.8" y2="690.8" stroke="#111" stroke-width="1.7"/>
<path d="M65.3,690.8 L73.0,687.5 L71.6,690.8 L73.0,694.1 Z" fill="#111"/>
<text x="90.7" y="694.7" font-size="8.6" font-weight="bold" font-style="italic" fill="#111" textLength="13.4" lengthAdjust="spacingAndGlyphs">Cbl</text>
<text x="105.1" y="691.3" font-size="5.7" font-weight="bold" font-style="italic" fill="#111">Q367P</text>
<text x="215.5" y="693.3" font-size="8.2" font-weight="bold" font-style="italic" fill="#111" textLength="14.1" lengthAdjust="spacingAndGlyphs">Ctrl</text>
<line x1="232.0" y1="690.9" x2="249.5" y2="690.9" stroke="#111" stroke-width="1.7"/>
<path d="M253.9,690.9 L246.6,687.7 L247.9,690.9 L246.6,694.1 Z" fill="#111"/>
<line x1="322.3" y1="690.8" x2="339.1" y2="690.8" stroke="#111" stroke-width="1.7"/>
<path d="M317.6,690.8 L325.3,687.5 L323.9,690.8 L325.3,694.1 Z" fill="#111"/>
<text x="343.0" y="694.7" font-size="8.6" font-weight="bold" font-style="italic" fill="#111" textLength="13.4" lengthAdjust="spacingAndGlyphs">Cbl</text>
<text x="357.4" y="691.3" font-size="5.7" font-weight="bold" font-style="italic" fill="#111">Q367P</text>
<text x="467.8" y="693.3" font-size="8.2" font-weight="bold" font-style="italic" fill="#111" textLength="14.1" lengthAdjust="spacingAndGlyphs">Ctrl</text>
<line x1="484.3" y1="690.9" x2="501.8" y2="690.9" stroke="#111" stroke-width="1.7"/>
<path d="M506.2,690.9 L498.9,687.7 L500.2,690.9 L498.9,694.1 Z" fill="#111"/>
</svg></body></html>
